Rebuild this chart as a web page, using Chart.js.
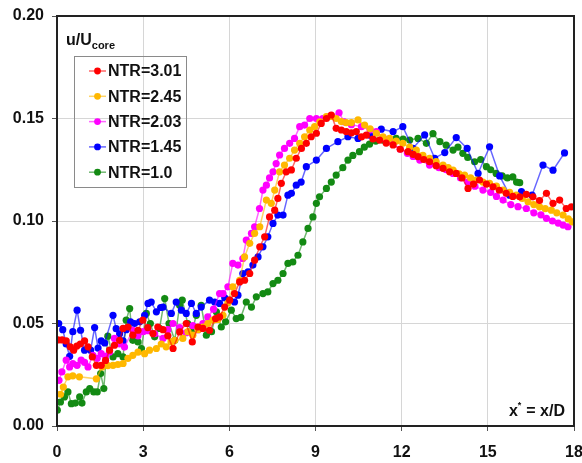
<!DOCTYPE html>
<html>
<head>
<meta charset="UTF-8">
<title>u/Ucore vs x/D</title>
<script src="https://cdn.jsdelivr.net/npm/chart.js"></script>
<style>
  html, body { margin: 0; padding: 0; background: #fff; }
  #wrap { width: 582px; height: 463px; }
</style>
</head>
<body>
<div id="wrap"><canvas id="grafico" width="582" height="463"></canvas></div>
<script>
  // series labels and colours
  const labels = ['NTR=3.01', 'NTR=2.45', 'NTR=2.03', 'NTR=1.45', 'NTR=1.0'];
  const colors = ['#ff0000', '#ffb800', '#ff00ff', '#0000ff', '#138a13'];

  // NTR=3.01
  const ntr301X = [0.03,0.18,0.32,0.46,0.58,0.69,0.81,0.96,1.08,1.23,1.37,1.54,1.69,1.83,2.00,2.18,2.30,2.47,2.64,2.82,2.99,3.16,3.34,3.51,3.69,3.86,4.04,4.27,4.50,4.71,4.91,5.08,5.31,5.52,5.66,5.84,6.01,6.18,6.36,6.53,6.71,6.88,7.06,7.23,7.40,7.58,7.69,7.81,7.98,8.16,8.33,8.51,8.68,8.85,9.03,9.20,9.38,9.55,9.72,9.90,10.07,10.25,10.42,10.60,10.77,11.00,11.23,11.46,11.70,11.95,12.22,12.40,12.57,12.77,12.97,13.20,13.44,13.67,13.90,14.10,14.31,14.50,14.71,14.95,15.18,15.40,15.64,15.87,16.11,16.34,16.57,16.80,17.04,17.27,17.50,17.73,17.91];
  const ntr301Y = [0.042,0.042,0.0415,0.0386,0.037,0.039,0.040,0.0415,0.0386,0.0337,0.0296,0.0296,0.032,0.037,0.0394,0.0418,0.0476,0.0483,0.0443,0.0467,0.0516,0.048,0.0451,0.0483,0.047,0.044,0.0378,0.0459,0.050,0.041,0.0483,0.0476,0.0467,0.0524,0.0532,0.058,0.0614,0.0646,0.0703,0.0711,0.0744,0.0809,0.0874,0.0923,0.102,0.1053,0.111,0.1184,0.124,0.1249,0.1306,0.1354,0.1379,0.1411,0.1428,0.1476,0.150,0.1517,0.1452,0.1444,0.1436,0.143,0.1436,0.141,0.1419,0.140,0.1395,0.138,0.1371,0.135,0.1338,0.1325,0.1314,0.130,0.1289,0.127,0.1257,0.124,0.1232,0.121,0.1159,0.118,0.120,0.118,0.1167,0.115,0.1135,0.112,0.1118,0.113,0.1118,0.110,0.1135,0.1086,0.1102,0.1061,0.1069];

  // NTR=2.45
  const ntr245X = [0.12,0.22,0.38,0.55,0.78,1.37,1.57,1.77,1.95,2.12,2.30,2.47,2.64,2.82,3.05,3.22,3.46,3.63,3.80,3.97,4.10,4.38,4.56,4.73,4.91,5.08,5.25,5.43,5.60,5.78,5.95,6.12,6.36,6.53,6.71,6.88,7.06,7.29,7.46,7.58,7.75,7.92,8.10,8.27,8.45,8.62,8.80,8.97,9.15,9.38,9.55,9.72,9.90,10.07,10.25,10.48,10.71,10.90,11.12,11.35,11.58,11.81,12.04,12.28,12.51,12.74,12.97,13.20,13.44,13.62,13.79,14.00,14.19,14.40,14.60,14.83,15.06,15.30,15.53,15.76,15.99,16.20,16.40,16.60,16.80,17.00,17.21,17.40,17.62,17.80,17.94];
  const ntr245Y = [0.0155,0.019,0.024,0.0245,0.024,0.023,0.0288,0.0295,0.0296,0.030,0.0305,0.033,0.0345,0.036,0.0353,0.037,0.0378,0.040,0.0386,0.041,0.0418,0.0427,0.046,0.0443,0.047,0.0483,0.050,0.0516,0.052,0.054,0.060,0.0679,0.0711,0.0825,0.0891,0.094,0.0972,0.1102,0.1086,0.1151,0.124,0.1273,0.1306,0.1346,0.1379,0.1411,0.1444,0.146,0.1484,0.1509,0.151,0.150,0.1485,0.148,0.148,0.1493,0.1468,0.145,0.1428,0.141,0.1403,0.139,0.1379,0.136,0.1346,0.132,0.1306,0.129,0.1273,0.126,0.1248,0.123,0.1224,0.121,0.120,0.119,0.1184,0.117,0.1151,0.114,0.1126,0.111,0.1094,0.108,0.1069,0.106,0.1053,0.104,0.1029,0.101,0.0996];

  // NTR=2.03
  const ntr203X = [0.07,0.17,0.32,0.44,0.55,0.70,0.84,0.96,1.08,1.25,1.40,1.54,1.69,1.83,2.00,2.18,2.35,2.64,2.82,3.00,3.17,3.40,3.69,3.86,4.04,4.27,4.50,4.73,4.91,5.08,5.25,5.45,5.66,5.78,5.95,6.12,6.30,6.47,6.59,6.77,6.88,7.05,7.17,7.29,7.40,7.52,7.63,7.75,7.92,8.10,8.27,8.45,8.62,8.80,9.03,9.25,9.50,9.82,10.00,10.25,10.60,10.90,11.12,11.40,11.70,11.95,12.20,12.40,12.63,12.97,13.30,13.55,13.79,14.05,14.30,14.55,14.83,15.10,15.30,15.53,15.80,16.05,16.34,16.60,16.85,17.04,17.25,17.45,17.62,17.79];
  const ntr203Y = [0.0223,0.0264,0.0321,0.0288,0.0305,0.0296,0.0321,0.031,0.0288,0.0345,0.033,0.0353,0.034,0.0361,0.0427,0.040,0.0385,0.0467,0.044,0.046,0.0465,0.045,0.0427,0.047,0.050,0.048,0.0455,0.049,0.047,0.050,0.0532,0.057,0.0646,0.0646,0.0679,0.0793,0.0785,0.0817,0.0907,0.094,0.0972,0.1061,0.1151,0.1175,0.121,0.124,0.128,0.1322,0.1354,0.1379,0.1403,0.146,0.1468,0.150,0.150,0.150,0.151,0.1528,0.1484,0.147,0.146,0.1445,0.1436,0.140,0.1379,0.135,0.133,0.1315,0.1297,0.1273,0.126,0.125,0.1232,0.121,0.119,0.117,0.1151,0.114,0.112,0.1102,0.108,0.107,0.1061,0.104,0.103,0.1013,0.100,0.099,0.098,0.0972];

  // NTR=1.45
  const ntr145X = [0.06,0.20,0.32,0.44,0.55,0.70,0.82,0.96,1.17,1.31,1.43,1.54,1.66,1.95,2.06,2.18,2.30,2.41,2.56,2.70,2.88,3.05,3.17,3.28,3.46,3.61,3.69,3.98,4.15,4.33,4.50,4.68,4.85,5.02,5.31,5.49,5.66,5.84,6.01,6.18,6.30,6.47,6.65,6.82,7.00,7.17,7.34,7.52,7.69,7.87,8.04,8.16,8.33,8.50,8.68,9.03,9.38,9.78,10.13,10.48,10.88,11.29,11.70,12.04,12.39,12.80,13.15,13.50,13.90,14.28,14.66,15.06,15.41,15.76,16.17,16.54,16.92,17.27,17.67];
  const ntr145Y = [0.050,0.047,0.040,0.034,0.046,0.0565,0.0467,0.037,0.037,0.048,0.038,0.0415,0.0405,0.054,0.0475,0.045,0.0415,0.047,0.0508,0.050,0.0508,0.054,0.0598,0.0605,0.0557,0.0578,0.058,0.0549,0.0605,0.0565,0.0549,0.0598,0.0549,0.058,0.0614,0.0605,0.0598,0.0625,0.0614,0.0605,0.0638,0.0744,0.0752,0.0785,0.0825,0.0874,0.0923,0.0988,0.1029,0.1029,0.1126,0.1135,0.1175,0.119,0.1265,0.1297,0.1354,0.1387,0.1411,0.1403,0.1419,0.1448,0.1436,0.146,0.1354,0.142,0.1306,0.1334,0.1407,0.1354,0.1232,0.1362,0.122,0.1126,0.1143,0.1126,0.1273,0.1248,0.1332];

  // NTR=1.0
  const ntr100X = [0.01,0.12,0.26,0.38,0.50,0.64,0.79,0.87,1.02,1.14,1.28,1.40,1.52,1.63,1.77,1.95,2.12,2.30,2.41,2.53,2.64,2.82,2.94,3.11,3.25,3.40,3.57,3.75,3.90,4.10,4.27,4.36,4.55,4.70,4.85,5.02,5.20,5.38,5.55,5.72,5.87,6.07,6.24,6.40,6.59,6.77,6.94,7.17,7.34,7.52,7.69,7.87,8.04,8.21,8.39,8.56,8.74,8.91,9.03,9.14,9.38,9.55,9.72,9.95,10.13,10.30,10.53,10.70,10.88,11.10,11.35,11.58,11.81,12.05,12.28,12.57,12.86,13.09,13.33,13.55,13.79,13.96,14.13,14.30,14.54,14.75,14.95,15.10,15.29,15.50,15.68,15.87,16.00,16.11];
  const ntr100Y = [0.0077,0.0117,0.0142,0.0166,0.0109,0.0112,0.0142,0.0112,0.0166,0.0183,0.0166,0.0166,0.0256,0.0183,0.0438,0.0337,0.0353,0.0337,0.0516,0.0573,0.0418,0.041,0.0378,0.0549,0.050,0.0435,0.0476,0.0622,0.050,0.0418,0.0589,0.0614,0.050,0.046,0.054,0.0589,0.0443,0.046,0.0557,0.0483,0.0508,0.0565,0.0524,0.053,0.0605,0.058,0.063,0.0646,0.0654,0.0695,0.0711,0.0744,0.0793,0.080,0.0833,0.0898,0.0964,0.102,0.1086,0.1118,0.1159,0.119,0.1224,0.126,0.1297,0.132,0.1338,0.136,0.1375,0.139,0.1395,0.140,0.1403,0.140,0.1395,0.1403,0.1379,0.1426,0.1387,0.137,0.1346,0.136,0.133,0.131,0.1289,0.130,0.1265,0.125,0.1232,0.122,0.121,0.1215,0.119,0.1187];

  const xTicks = [0, 3, 6, 9, 12, 15, 18];
  const yTicks = [0, 0.05, 0.10, 0.15, 0.20];

  const seriesX = [ntr301X, ntr245X, ntr203X, ntr145X, ntr100X];
  const seriesY = [ntr301Y, ntr245Y, ntr203Y, ntr145Y, ntr100Y];

  const FONT = '"Liberation Sans", Arial, sans-serif';

  function fade(hex, a) {
    const n = parseInt(hex.slice(1), 16);
    return `rgba(${n >> 16}, ${(n >> 8) & 255}, ${n & 255}, ${a})`;
  }

  const datasets = labels.map((lab, i) => ({
    label: lab,
    data: seriesX[i].map((x, k) => ({ x, y: seriesY[i][k] })),
    borderColor: fade(colors[i], 0.6),
    borderWidth: 1.5,
    backgroundColor: colors[i],
    pointBackgroundColor: colors[i],
    pointBorderWidth: 0,
    pointRadius: 3.6,
    fill: false,
    tension: 0
  }));

  // draws frame, legend box and the two texts inside the plot
  const extras = {
    id: 'extras',
    afterDraw(chart) {
      const ctx = chart.ctx;
      const a = chart.chartArea;
      ctx.save();
      ctx.strokeStyle = '#222';
      ctx.lineWidth = 2;
      ctx.strokeRect(a.left, a.top, a.right - a.left, a.bottom - a.top);

      ctx.fillStyle = '#111';
      ctx.textBaseline = 'alphabetic';
      ctx.font = `bold 16px ${FONT}`;
      ctx.fillText('u/U', 66, 45);
      let w = ctx.measureText('u/U').width;
      ctx.font = `bold 11px ${FONT}`;
      ctx.fillText('core', 66 + w, 49);

      // x label bottom right
      ctx.font = `bold 16px ${FONT}`;
      const t2 = ' = x/D';
      const w2 = ctx.measureText(t2).width;
      const wx = ctx.measureText('x').width;
      const xr = 565;
      ctx.fillText(t2, xr - w2, 416);
      ctx.fillText('x', xr - w2 - wx - 4, 416);
      ctx.font = `bold 9px ${FONT}`;
      ctx.fillText('*', xr - w2 - 4, 408);

      // legend
      ctx.strokeStyle = '#8a8a8a';
      ctx.lineWidth = 1;
      ctx.strokeRect(74.5, 56.5, 112, 131);
      chart.data.datasets.forEach((ds, i) => {
        const cy = 71 + i * 25.3;
        ctx.strokeStyle = ds.borderColor;
        ctx.lineWidth = 1.5;
        ctx.beginPath();
        ctx.moveTo(89, cy);
        ctx.lineTo(106, cy);
        ctx.stroke();
        ctx.fillStyle = ds.pointBackgroundColor;
        ctx.beginPath();
        ctx.arc(97.5, cy, 3.4, 0, Math.PI * 2);
        ctx.fill();
        ctx.fillStyle = '#111';
        ctx.font = `bold 16px ${FONT}`;
        ctx.textBaseline = 'middle';
        ctx.fillText(ds.label, 108, cy + 1);
      });
      ctx.restore();
    }
  };

  new Chart(document.getElementById('grafico').getContext('2d'), {
    type: 'line',
    data: { datasets },
    options: {
      responsive: false,
      animation: false,
      layout: { padding: { top: 16, right: 8, left: 0, bottom: 0 } },
      plugins: { legend: { display: false }, tooltip: { enabled: false } },
      scales: {
        x: {
          type: 'linear',
          min: 0, max: 18,
          afterBuildTicks: (s) => { s.ticks = xTicks.map(v => ({ value: v })); },
          afterFit: (s) => { s.height = 37; s.paddingLeft = 0; s.paddingRight = 0; },
          grid: { color: '#d6d6d6', tickColor: '#555', tickLength: 5 },
          border: { display: false },
          ticks: {
            color: '#111', padding: 12, maxRotation: 0,
            font: { family: FONT, size: 16, weight: 'bold' }
          }
        },
        y: {
          min: 0, max: 0.2,
          afterBuildTicks: (s) => { s.ticks = yTicks.map(v => ({ value: v })); },
          afterFit: (s) => { s.width = 57; s.paddingTop = 0; s.paddingBottom = 0; },
          grid: { color: '#d6d6d6', tickColor: '#555', tickLength: 5 },
          border: { display: false },
          ticks: {
            color: '#111', padding: 8,
            font: { family: FONT, size: 16, weight: 'bold' },
            callback: (v) => v.toFixed(2)
          }
        }
      }
    },
    plugins: [extras]
  });
</script>
</body>
</html>
